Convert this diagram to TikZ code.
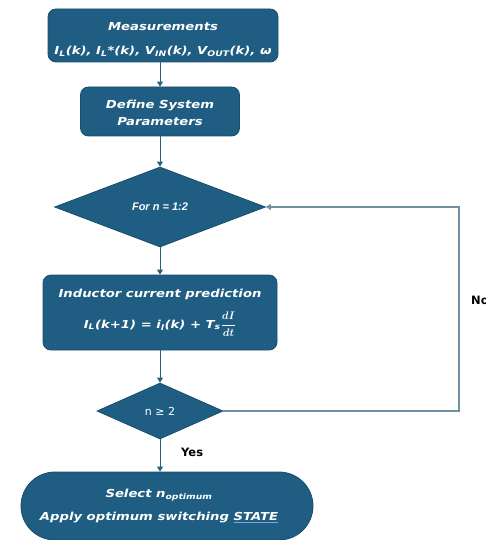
\documentclass[tikz,border=0pt]{standalone}
\usepackage{fontspec}
\setmainfont{DejaVu Sans}
\newfontfamily\boxfont[FakeStretch=1.2]{DejaVu Sans Bold Oblique}
\newfontfamily\forfont{Liberation Sans Bold Italic}
\newfontfamily\lblfont{DejaVu Sans Bold}
\usetikzlibrary{shapes.geometric,arrows.meta}
\definecolor{boxblue}{HTML}{1F5E82}
\definecolor{boxedge}{HTML}{184D6C}
\definecolor{arrowblue}{HTML}{2B5F80}
\definecolor{fbline}{HTML}{6F8FA2}
\definecolor{ulblue}{HTML}{7FA6E0}
\tikzset{
  procbox/.style={draw=boxedge, line width=0.8pt, fill=boxblue, rounded corners=8pt,
    text=white, font=\boxfont\fontsize{11}{13.5}\selectfont, align=center, inner sep=0pt},
  decision/.style={diamond, draw=boxedge, line width=0.8pt, fill=boxblue, text=white, inner sep=0pt},
  arr/.style={draw=arrowblue, line width=1pt, -{Triangle[length=5pt,width=6pt]}},
  fb/.style={draw=fbline, line width=1.1pt, -{Triangle[length=5pt,width=6pt]}},
  lbl/.style={text=black, font=\lblfont\fontsize{11.5}{13}\selectfont, inner sep=0pt}
}
\begin{document}
\begin{tikzpicture}[x=1pt,y=-1pt]
\useasboundingbox (0,0) rectangle (485,540);
\node[procbox, minimum width=230pt, minimum height=53pt] (meas) at (163,35.5)
  {\rule{0pt}{16pt}Measurements\\[10pt]I\textsubscript{L}(k), I\textsubscript{L}*(k), V\textsubscript{IN}(k), V\textsubscript{OUT}(k), ω};
\node[procbox, minimum width=159pt, minimum height=49pt, font=\boxfont\fontsize{11}{17.5}\selectfont] (def) at (160,111.5)
  {\rule{0pt}{11pt}Define System\\Parameters};
\node[decision, minimum width=211pt, minimum height=80pt, font=\forfont\fontsize{11}{12}\selectfont] (d1) at (160,207)
  {For n = 1:2};
\node[procbox, minimum width=234pt, minimum height=75pt, font=\boxfont\fontsize{11}{13.5}\selectfont\mathversion{bold}] (pred) at (160,312.5)
  {Inductor current prediction\\[12pt]I\textsubscript{L}(k+1) = i\textsubscript{l}(k) + T\textsubscript{s}{$\displaystyle\frac{dI}{dt}$}};
\node[decision, minimum width=126pt, minimum height=56pt, font=\fontsize{11}{13}\selectfont] (d2) at (160,411)
  {n ≥ 2};
\node[procbox, rounded corners=34pt, minimum width=292pt, minimum height=68pt] (term) at (167,506) {};
\node[text=white, font=\boxfont\fontsize{11}{13.5}\selectfont, align=center, inner sep=0pt] (termtxt) at (159,506)
  {Select n\textsubscript{optimum}\\[10pt]Apply optimum switching {\color{ulblue}\underline{\color{white}STATE}}};
\node[lbl, anchor=west] (yes) at (181,452) {Yes};
\node[lbl, anchor=west] (no) at (471,300) {No};
\coordinate (fbc) at (459,411);
\draw[arr] (meas.south -| def.north) -- (def.north);
\draw[arr] (def.south) -- (d1.north);
\draw[arr] (d1.south) -- (pred.north);
\draw[arr] (pred.south) -- (d2.north);
\draw[arr] (d2.south) -- (term.north -| d2.south);
\draw[fb] (d2.east) -- (fbc) |- (d1.east);
\end{tikzpicture}
\end{document}
